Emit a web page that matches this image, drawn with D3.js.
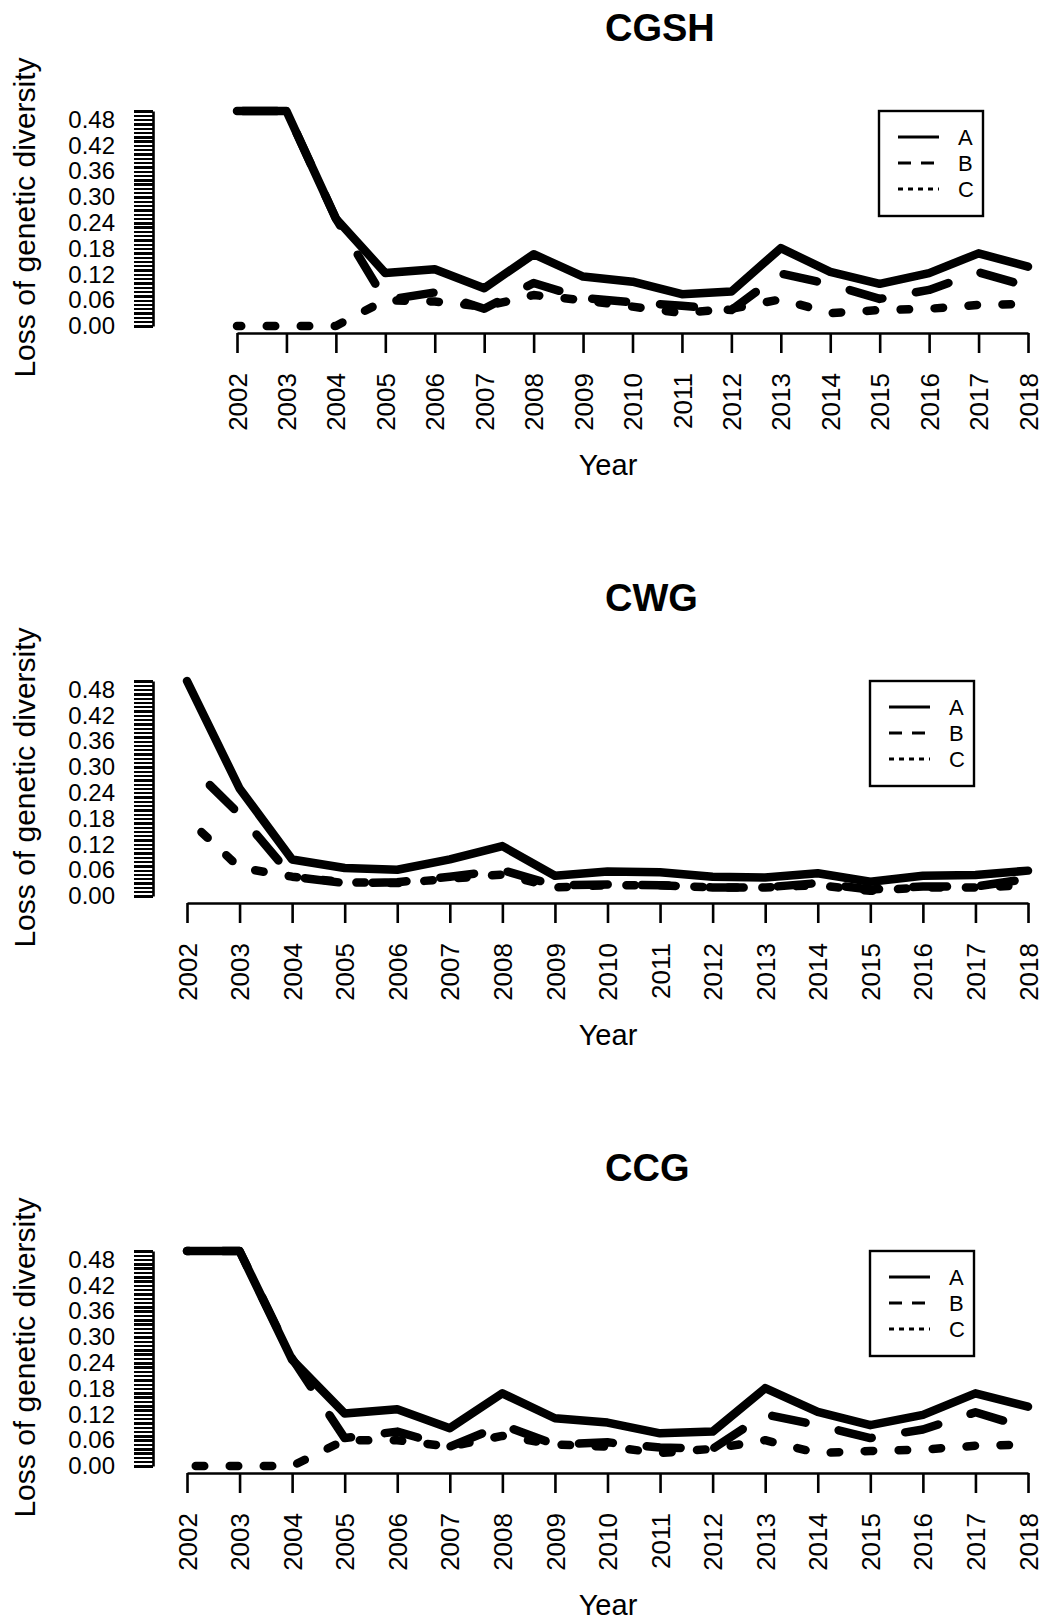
<!DOCTYPE html>
<html>
<head>
<meta charset="utf-8">
<script src="https://cdn.jsdelivr.net/npm/d3@7"></script>
<style>
  body { margin: 0; background: #fff; }
  svg text { font-family: "Liberation Sans", Arial, Helvetica, sans-serif; fill: #000; }
</style>
</head>
<body>
<div id="chart"></div>
<script>
// data
const years = [2002, 2003, 2004, 2005, 2006, 2007, 2008, 2009, 2010, 2011, 2012, 2013, 2014, 2015, 2016, 2017, 2018];

const cgshA = [0.50, 0.50, 0.25, 0.123, 0.132, 0.088, 0.167, 0.115, 0.103, 0.074, 0.080, 0.181, 0.126, 0.098, 0.123, 0.169, 0.138];
const cgshB = [0.50, 0.50, 0.25, 0.060, 0.078, 0.040, 0.100, 0.065, 0.055, 0.047, 0.037, 0.122, 0.097, 0.063, 0.084, 0.125, 0.092];
const cgshC = [0.00, 0.00, 0.00, 0.060, 0.057, 0.045, 0.072, 0.060, 0.045, 0.030, 0.040, 0.062, 0.030, 0.037, 0.040, 0.049, 0.051];

const cwgA = [0.50, 0.25, 0.085, 0.065, 0.061, 0.085, 0.116, 0.047, 0.057, 0.055, 0.045, 0.043, 0.053, 0.033, 0.047, 0.049, 0.059];
const cwgB = [0.31, 0.19, 0.045, 0.030, 0.032, 0.045, 0.060, 0.025, 0.027, 0.025, 0.020, 0.020, 0.030, 0.015, 0.022, 0.022, 0.040];
const cwgC = [0.18, 0.066, 0.045, 0.032, 0.030, 0.040, 0.050, 0.020, 0.025, 0.025, 0.020, 0.020, 0.025, 0.012, 0.020, 0.020, 0.025];

const ccgA = [0.50, 0.50, 0.247, 0.122, 0.132, 0.088, 0.169, 0.111, 0.101, 0.076, 0.080, 0.181, 0.126, 0.095, 0.119, 0.169, 0.138];
const ccgB = [0.50, 0.50, 0.25, 0.065, 0.080, 0.045, 0.095, 0.050, 0.055, 0.043, 0.040, 0.120, 0.095, 0.065, 0.085, 0.125, 0.088];
const ccgC = [0.00, 0.00, 0.00, 0.060, 0.060, 0.045, 0.070, 0.050, 0.045, 0.030, 0.040, 0.060, 0.030, 0.035, 0.038, 0.047, 0.050];

const seriesNames = ["A", "B", "C"];
const yLabelTicks = [0, 0.06, 0.12, 0.18, 0.24, 0.30, 0.36, 0.42, 0.48];

const w = 1046;
const h = 1618;
const lw = 8.5;
const dashes = [null, `${4 * lw},${4 * lw}`, `${lw},${3 * lw}`];

const panels = [
  { title: "CGSH", top: 0,    x0: 237, legendX: 879, data: [cgshA, cgshB, cgshC], offsets: [0, 62, 4.25] },
  { title: "CWG",  top: 570,  x0: 187, legendX: 870, data: [cwgA, cwgB, cwgC],    offsets: [0, 36, 14.25] },
  { title: "CCG",  top: 1140, x0: 187, legendX: 870, data: [ccgA, ccgB, ccgC],    offsets: [0, 32, 25.25] }
];

const svg = d3.select("#chart")
              .append("svg")
              .attr("width", w)
              .attr("height", h);

panels.forEach(p => {
  const g = svg.append("g").attr("transform", `translate(0, ${p.top})`);

  const x = d3.scaleLinear().domain([2002, 2018]).range([p.x0, 1028]);
  const y = d3.scaleLinear().domain([0, 0.5]).range([326, 111]);

  // title
  g.append("text")
   .attr("x", 605)
   .attr("y", 41)
   .style("font-size", "38px")
   .style("font-weight", "bold")
   .text(p.title);

  // y axis: a tick every 0.01, labels every 0.06
  const yAxis = d3.axisLeft(y)
                  .tickValues(d3.range(0, 0.5001, 0.01))
                  .tickSize(19)
                  .tickSizeOuter(0)
                  .tickPadding(19)
                  .tickFormat(d => {
                    const hit = yLabelTicks.find(t => Math.abs(t - d) < 1e-6);
                    return hit === undefined ? "" : d3.format(".2f")(hit);
                  });

  const ya = g.append("g")
              .attr("transform", "translate(153, 0)")
              .call(yAxis);
  ya.selectAll("path").attr("stroke", "#000").attr("stroke-width", 2.6);
  ya.selectAll("line")
    .attr("stroke", "#000")
    .attr("stroke-width", 2.4)
    .attr("shape-rendering", "crispEdges");
  ya.selectAll("text").style("font-size", "24px");

  g.append("text")
   .attr("transform", "translate(35, 217.5) rotate(-90)")
   .attr("text-anchor", "middle")
   .style("font-size", "30px")
   .text("Loss of genetic diversity");

  // x axis
  const xAxis = d3.axisBottom(x)
                  .tickValues(years)
                  .tickSize(20)
                  .tickSizeOuter(0)
                  .tickFormat(d => d);

  const xa = g.append("g")
              .attr("transform", "translate(0, 333)")
              .call(xAxis);
  xa.selectAll("path, line").attr("stroke", "#000").attr("stroke-width", 2.6);
  xa.selectAll("text")
    .attr("x", 0)
    .attr("y", 0)
    .attr("dy", "0.35em")
    .attr("transform", "translate(0, 40) rotate(-90)")
    .attr("text-anchor", "end")
    .style("font-size", "26px");

  g.append("text")
   .attr("x", 608)
   .attr("y", 475)
   .attr("text-anchor", "middle")
   .style("font-size", "29px")
   .text("Year");

  // lines
  const line = d3.line()
                 .x((d, i) => x(years[i]))
                 .y(d => y(d));

  p.data.forEach((vals, k) => {
    g.append("path")
     .datum(vals)
     .attr("d", line)
     .attr("fill", "none")
     .attr("stroke", "#000")
     .attr("stroke-width", lw)
     .attr("stroke-linecap", "round")
     .attr("stroke-linejoin", "round")
     .attr("stroke-dasharray", dashes[k])
     .attr("stroke-dashoffset", p.offsets[k]);
  });

  // legend
  const lg = g.append("g").attr("transform", `translate(${p.legendX}, 111)`);
  lg.append("rect")
    .attr("width", 104)
    .attr("height", 105)
    .attr("fill", "#fff")
    .attr("stroke", "#000")
    .attr("stroke-width", 2.4);

  const legendDash = [null, "13,10", "5,5"];
  seriesNames.forEach((s, k) => {
    const ry = 26 + k * 26;
    lg.append("line")
      .attr("x1", 19)
      .attr("x2", 60)
      .attr("y1", ry)
      .attr("y2", ry)
      .attr("stroke", "#000")
      .attr("stroke-width", 3)
      .attr("stroke-dasharray", legendDash[k]);
    lg.append("text")
      .attr("x", 79)
      .attr("y", ry)
      .attr("dy", "0.36em")
      .style("font-size", "22px")
      .text(s);
  });
});
</script>
</body>
</html>
